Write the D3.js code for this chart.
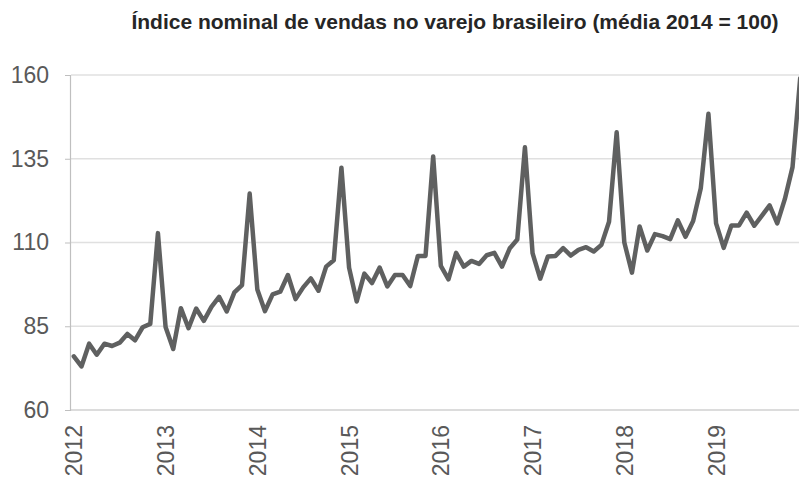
<!DOCTYPE html>
<html>
<head>
<meta charset="utf-8">
<script src="https://cdn.jsdelivr.net/npm/d3@7"></script>
<style>
  html, body { margin: 0; padding: 0; background: #fff; }
  svg { display: block; font-family: "Liberation Sans", Arial, sans-serif; }
</style>
</head>
<body>
<svg id="chart" width="799" height="483"></svg>
<script>
// Índice nominal de vendas no varejo (média 2014 = 100), dados mensais jan/2012 – dez/2019
const years = ["2012", "2013", "2014", "2015", "2016", "2017", "2018", "2019"];
const yTicks = [60, 85, 110, 135, 160];

const v2012 = [76, 73, 79.8, 76.5, 79.8, 79.1, 80.1, 82.7, 80.8, 84.7, 85.7, 112.8];
const v2013 = [84.8, 78.2, 90.4, 84.4, 90.3, 86.6, 90.8, 93.8, 89.4, 95.1, 97.3, 124.6];
const v2014 = [96, 89.5, 94.5, 95.3, 100.3, 93.1, 96.6, 99.3, 95.6, 102.8, 104.7, 132.3];
const v2015 = [102.5, 92.4, 100.7, 97.9, 102.5, 96.9, 100.3, 100.3, 97, 106, 106, 135.7];
const v2016 = [103, 99, 106.9, 102.8, 104.5, 103.6, 106.2, 106.9, 102.8, 108.2, 110.9, 138.4];
const v2017 = [106.8, 99.2, 105.8, 106, 108.3, 106.1, 107.8, 108.6, 107.3, 109.3, 116.2, 142.9];
const v2018 = [110, 101, 114.8, 107.6, 112.5, 111.9, 111, 116.6, 111.7, 116.4, 126.2, 148.4];
const v2019 = [115.7, 108.4, 115.1, 115.1, 118.9, 115, 118, 121.1, 115.7, 123, 132.5, 159];

const series = [v2012, v2013, v2014, v2015, v2016, v2017, v2018, v2019].flat();

const svg = d3.select("#chart");
const W = 799;
const plot = { left: 70, top: 75, bottom: 410 };
const labelFont = "Liberation Sans, Arial, sans-serif";

// one slot per month; the last slot runs past the right edge of the page
const x = d3.scalePoint()
  .domain(d3.range(series.length))
  .range([plot.left, 804])
  .padding(0.5);

const y = d3.scaleLinear().domain([60, 160]).range([plot.bottom, plot.top]);

// title
svg.append("text")
  .attr("x", 455)
  .attr("y", 29)
  .attr("text-anchor", "middle")
  .attr("font-weight", "bold")
  .attr("font-size", 21)
  .attr("fill", "#262626")
  .text("Índice nominal de vendas no varejo brasileiro (média 2014 = 100)");

// horizontal gridlines
svg.append("g")
  .selectAll("line")
  .data(yTicks)
  .join("line")
  .attr("x1", plot.left + 1)
  .attr("x2", W)
  .attr("y1", d => y(d))
  .attr("y2", d => y(d))
  .attr("stroke", d => d === 60 ? "#d0d0d0" : "#e0e0e0")
  .attr("stroke-width", 1.5);

// y axis with labels
const yAxis = d3.axisLeft(y).tickValues(yTicks).tickSize(5).tickPadding(16).tickFormat(d3.format("d"));
const gy = svg.append("g").attr("transform", `translate(${plot.left},0)`).call(yAxis);
gy.select(".domain").attr("stroke", "#bfbfbf").attr("stroke-width", 1.2);
gy.selectAll(".tick line").attr("stroke", "#bfbfbf");
gy.selectAll(".tick text")
  .attr("fill", "#595959")
  .attr("font-size", 23)
  .attr("font-family", labelFont);

// x axis: year labels at each January, rotated
const janIdx = years.map((_, i) => i * 12);
const xAxis = d3.axisBottom(x)
  .tickValues(janIdx)
  .tickSize(0)
  .tickPadding(0)
  .tickFormat((d) => years[d / 12]);
const gx = svg.append("g").attr("transform", `translate(0,${plot.bottom})`).call(xAxis);
gx.select(".domain").remove();
gx.selectAll(".tick text")
  .attr("fill", "#595959")
  .attr("font-size", 23)
  .attr("font-family", labelFont)
  .attr("text-anchor", "end")
  .attr("dy", "0.35em")
  .attr("transform", "translate(0,15) rotate(-90)");

// the index line
const line = d3.line()
  .x((d, i) => x(i))
  .y(d => y(d));

svg.append("path")
  .datum(series)
  .attr("d", line)
  .attr("fill", "none")
  .attr("stroke", "#5f6060")
  .attr("stroke-width", 4.5)
  .attr("stroke-linejoin", "round")
  .attr("stroke-linecap", "round");
</script>
</body>
</html>
